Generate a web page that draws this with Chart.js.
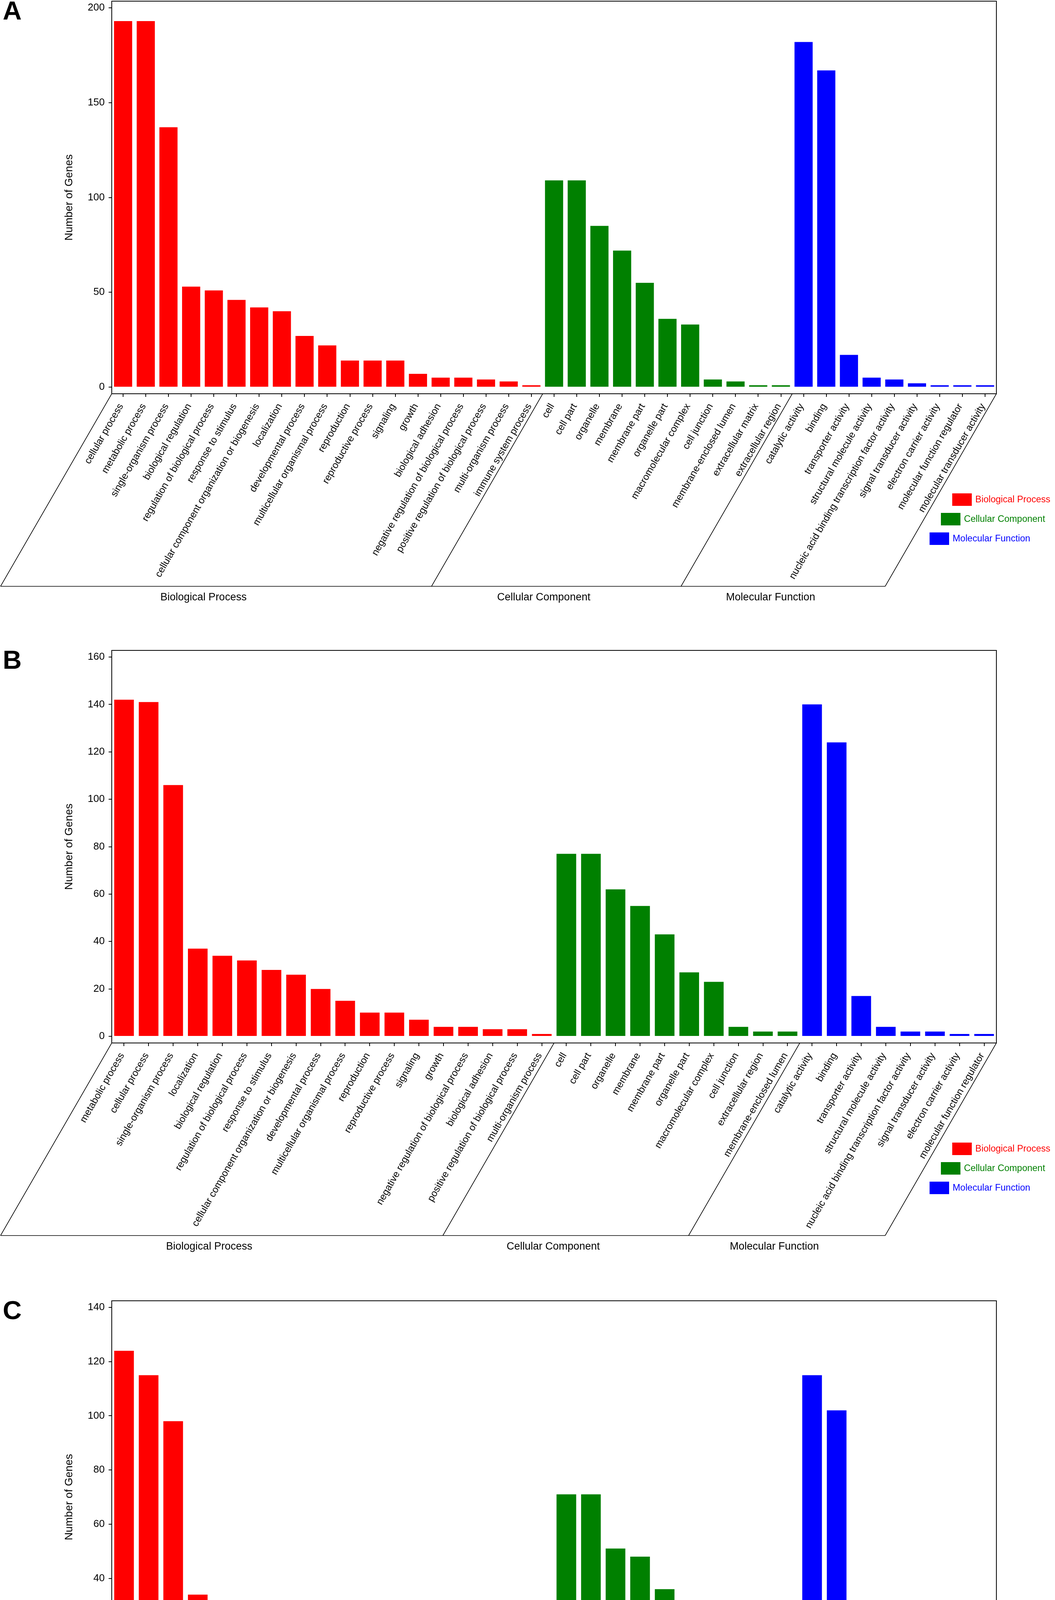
<!DOCTYPE html>
<html>
<head>
<meta charset="utf-8">
<script src="https://cdn.jsdelivr.net/npm/chart.js@4.4.1/dist/chart.umd.min.js"></script>
<style>
  html, body { margin: 0; padding: 0; background: #fff; }
  body { width: 2700px; height: 4877px; position: relative; overflow: hidden; }
  canvas { position: absolute; left: 0; }
</style>
</head>
<body>
<canvas id="chartA" width="2700" height="1550" style="top:0px"></canvas>
<canvas id="chartB" width="2700" height="1550" style="top:1662px"></canvas>
<canvas id="chartC" width="2700" height="1550" style="top:3327px"></canvas>
<script>
const groupNames = ['Biological Process', 'Cellular Component', 'Molecular Function'];
const groupColors = ['#FF0000', '#008000', '#0000FF'];

// Panel A
const labelsA = [
    'cellular process', 'metabolic process', 'single-organism process', 'biological regulation',
    'regulation of biological process', 'response to stimulus', 'cellular component organization or biogenesis',
    'localization', 'developmental process', 'multicellular organismal process', 'reproduction',
    'reproductive process', 'signaling', 'growth', 'biological adhesion',
    'negative regulation of biological process', 'positive regulation of biological process',
    'multi-organism process', 'immune system process',
    'cell', 'cell part', 'organelle', 'membrane', 'membrane part', 'organelle part', 'macromolecular complex',
    'cell junction', 'membrane-enclosed lumen', 'extracellular matrix', 'extracellular region',
    'catalytic activity', 'binding', 'transporter activity', 'structural molecule activity',
    'nucleic acid binding transcription factor activity', 'signal transducer activity',
    'electron carrier activity', 'molecular function regulator', 'molecular transducer activity'
];
const valuesA = [193, 193, 137, 53, 51, 46, 42, 40, 27, 22, 14, 14, 14, 7, 5, 5, 4, 3, 1,
                 109, 109, 85, 72, 55, 36, 33, 4, 3, 1, 1,
                 182, 167, 17, 5, 4, 2, 1, 1, 1];
const groupSizesA = [19, 11, 9];
const yTicksA = [0, 50, 100, 150, 200];

// Panel B
const labelsB = [
    'metabolic process', 'cellular process', 'single-organism process', 'localization', 'biological regulation',
    'regulation of biological process', 'response to stimulus', 'cellular component organization or biogenesis',
    'developmental process', 'multicellular organismal process', 'reproduction', 'reproductive process',
    'signaling', 'growth', 'negative regulation of biological process', 'biological adhesion',
    'positive regulation of biological process', 'multi-organism process',
    'cell', 'cell part', 'organelle', 'membrane', 'membrane part', 'organelle part', 'macromolecular complex',
    'cell junction', 'extracellular region', 'membrane-enclosed lumen',
    'catalytic activity', 'binding', 'transporter activity', 'structural molecule activity',
    'nucleic acid binding transcription factor activity', 'signal transducer activity',
    'electron carrier activity', 'molecular function regulator'
];
const valuesB = [142, 141, 106, 37, 34, 32, 28, 26, 20, 15, 10, 10, 7, 4, 4, 3, 3, 1,
                 77, 77, 62, 55, 43, 27, 23, 4, 2, 2,
                 140, 124, 17, 4, 2, 2, 1, 1];
const groupSizesB = [18, 10, 8];
const yTicksB = [0, 20, 40, 60, 80, 100, 120, 140, 160];

// Panel C
const labelsC = [
    'metabolic process', 'cellular process', 'single-organism process', 'biological regulation',
    'regulation of biological process', 'localization', 'response to stimulus',
    'cellular component organization or biogenesis', 'developmental process', 'multicellular organismal process',
    'signaling', 'multi-organism process', 'reproduction', 'reproductive process', 'biological adhesion',
    'negative regulation of biological process', 'growth', 'positive regulation of biological process',
    'cell', 'cell part', 'membrane', 'organelle', 'membrane part', 'organelle part', 'macromolecular complex',
    'cell junction', 'extracellular region', 'membrane-enclosed lumen',
    'catalytic activity', 'binding', 'transporter activity', 'structural molecule activity',
    'nucleic acid binding transcription factor activity', 'signal transducer activity',
    'molecular function regulator', 'molecular transducer activity'
];
const valuesC = [124, 115, 98, 34, 30, 27, 21, 17, 11, 9, 6, 4, 4, 4, 2, 2, 1, 1,
                 71, 71, 51, 48, 36, 25, 17, 6, 3, 2,
                 115, 102, 14, 3, 2, 2, 1, 1];
const groupSizesC = [18, 10, 8];
const yTicksC = [0, 20, 40, 60, 80, 100, 120, 140];

const FONT = "'Liberation Sans', Arial, sans-serif";
Chart.defaults.font.family = FONT;

// frame, slanted group brackets, group names, legend and panel letter
const goFrame = {
    id: 'goFrame',
    afterDraw(chart, args, opts) {
        const ctx = chart.ctx;
        const area = chart.chartArea;
        const xs = chart.scales.x;
        const drop = 493;
        const dx = drop / Math.tan(Math.PI / 3);
        const base = area.bottom + drop;

        ctx.save();
        ctx.strokeStyle = '#000';
        ctx.lineWidth = 2;
        ctx.strokeRect(area.left, area.top, area.right - area.left, area.bottom - area.top);

        const bounds = [area.left];
        let idx = 0;
        opts.groupSizes.forEach((n, i) => {
            idx += n;
            if (i < opts.groupSizes.length - 1) {
                bounds.push((xs.getPixelForValue(idx - 1) + xs.getPixelForValue(idx)) / 2);
            }
        });
        bounds.push(area.right);

        ctx.lineWidth = 1.6;
        ctx.beginPath();
        bounds.forEach(b => {
            ctx.moveTo(b, area.bottom);
            ctx.lineTo(b - dx, base);
        });
        ctx.moveTo(bounds[0] - dx, base);
        ctx.lineTo(bounds[bounds.length - 1] - dx, base);
        ctx.stroke();

        ctx.fillStyle = '#000';
        ctx.font = '27px ' + FONT;
        ctx.textAlign = 'center';
        ctx.textBaseline = 'middle';
        for (let i = 0; i < groupNames.length; i++) {
            const cx = (bounds[i] + bounds[i + 1]) / 2 - dx - 32;
            ctx.fillText(groupNames[i], cx, base + 29);
        }

        // legend, stepped along the right diagonal
        ctx.font = '23.5px ' + FONT;
        ctx.textAlign = 'left';
        for (let i = 0; i < groupNames.length; i++) {
            const bx = area.right - 113 - 29 * i;
            const by = area.bottom + 255 + 50 * i;
            ctx.fillStyle = groupColors[i];
            ctx.fillRect(bx, by, 50, 32);
            ctx.fillText(groupNames[i], bx + 59, by + 17);
        }

        ctx.fillStyle = '#000';
        ctx.font = 'bold 67px ' + FONT;
        ctx.textBaseline = 'alphabetic';
        ctx.fillText(opts.letter, 7, 50);
        ctx.restore();
    }
};

function makeChart(id, labels, values, groupSizes, yTicks, yMin, yMax, letter) {
    const colors = [];
    groupSizes.forEach((n, g) => {
        for (let i = 0; i < n; i++) colors.push(groupColors[g]);
    });
    return new Chart(document.getElementById(id).getContext('2d'), {
        type: 'bar',
        data: {
            labels: labels,
            datasets: [{
                data: values,
                backgroundColor: colors,
                borderWidth: 0,
                barPercentage: 0.8,
                categoryPercentage: 1.0
            }]
        },
        options: {
            responsive: false,
            animation: false,
            devicePixelRatio: 1,
            layout: { padding: { top: 3, right: 150, left: 0, bottom: 0 } },
            plugins: {
                legend: { display: false },
                tooltip: { enabled: false },
                goFrame: { groupSizes: groupSizes, letter: letter }
            },
            scales: {
                x: {
                    grid: { display: true, drawOnChartArea: false, offset: false, tickLength: 8, color: '#000', lineWidth: 2 },
                    border: { display: false },
                    ticks: {
                        autoSkip: false, minRotation: 60, maxRotation: 60, padding: 12, labelOffset: -5,
                        color: '#000', font: { size: 25 }
                    },
                    afterFit: (s) => {
                        s.height = 542;
                        s.paddingLeft = 0;
                        s.paddingRight = 0;
                    }
                },
                y: {
                    min: yMin,
                    max: yMax,
                    afterBuildTicks: (s) => { s.ticks = yTicks.map(v => ({ value: v })); },
                    grid: { display: true, drawOnChartArea: false, tickLength: 8, color: '#000', lineWidth: 2 },
                    border: { display: false },
                    ticks: { padding: 10, color: '#000', font: { size: 26 } },
                    title: {
                        display: true,
                        text: 'Number of Genes',
                        color: '#000',
                        font: { size: 28 },
                        padding: { top: 160, bottom: 0 }
                    },
                    afterFit: (s) => {
                        s.width = 286;
                        s.paddingTop = 0;
                        s.paddingBottom = 0;
                    }
                }
            }
        },
        plugins: [goFrame]
    });
}

makeChart('chartA', labelsA, valuesA, groupSizesA, yTicksA, -3.5, 203.5, 'A');
makeChart('chartB', labelsB, valuesB, groupSizesB, yTicksB, -2.8, 162.8, 'B');
makeChart('chartC', labelsC, valuesC, groupSizesC, yTicksC, -2.45, 142.45, 'C');
</script>
</body>
</html>
